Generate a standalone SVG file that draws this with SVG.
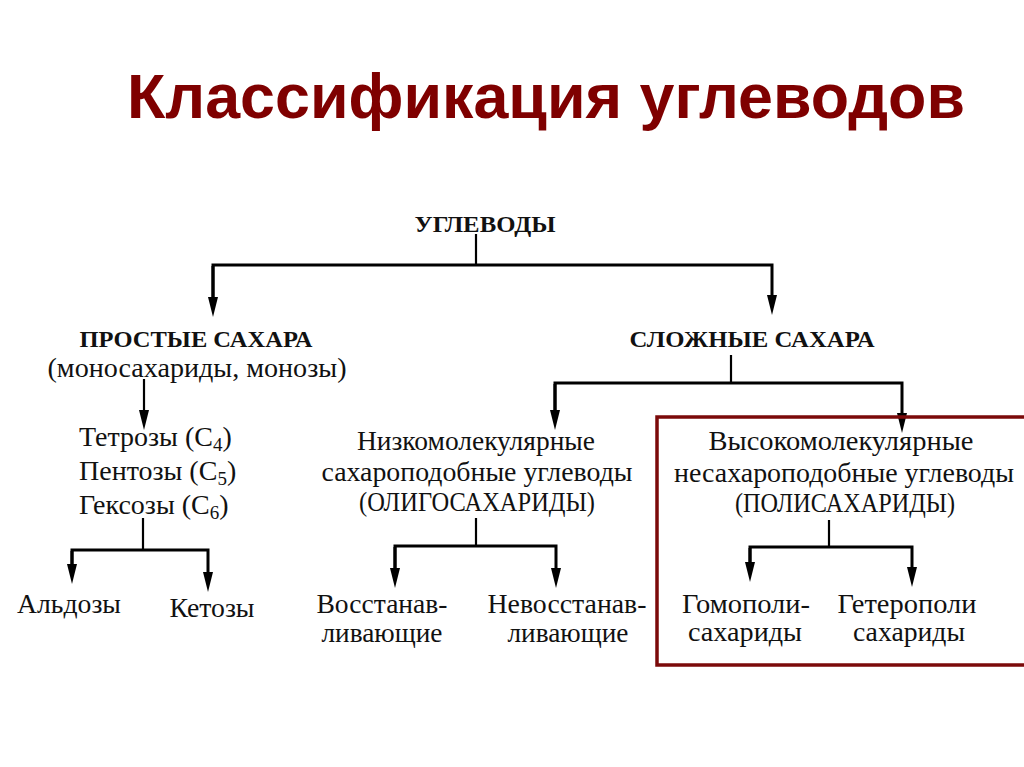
<svg xmlns="http://www.w3.org/2000/svg" width="1024" height="767" viewBox="0 0 1024 767">
<style>
.t{font-family:"Liberation Serif","Times New Roman",serif;font-size:28px;fill:#111;text-anchor:middle}
.b{font-family:"Liberation Serif","Times New Roman",serif;font-size:23px;font-weight:bold;fill:#111;text-anchor:middle}
.l{text-anchor:start}
.sub{font-size:19px}
.c{fill:none;stroke:#000;stroke-width:3}
.s{fill:none;stroke:#000;stroke-width:2.2}
</style>
<defs>
<marker id="ah" viewBox="0 0 20 10" refX="2" refY="5" markerWidth="20" markerHeight="10" markerUnits="userSpaceOnUse" orient="auto">
<path d="M0,0 L20,5 L0,10 Z" fill="#000"/>
</marker>
</defs>
<rect width="1024" height="767" fill="#fff"/>
<text x="127" y="118" font-family="Liberation Sans, Arial, sans-serif" font-weight="bold" font-size="63" fill="#7f0000" textLength="838" lengthAdjust="spacingAndGlyphs">Классификация углеводов</text>

<g id="connectors">
<path class="s" d="M476,234 V265"/>
<path class="c" d="M213,299 V265 H772 V297" marker-end="url(#ah)"/>
<path class="c" d="M213,266 V299" marker-end="url(#ah)"/>
<path class="s" d="M144,379 V412" marker-end="url(#ah)"/>
<path class="s" d="M143,518 V550"/>
<path class="c" d="M72,566 V550 H208 V574" marker-end="url(#ah)"/>
<path class="c" d="M72,551 V566" marker-end="url(#ah)"/>
<path class="s" d="M731,355 V383"/>
<path class="c" d="M555,412 V383 H902 V415" marker-end="url(#ah)"/>
<path class="c" d="M555,384 V412" marker-end="url(#ah)"/>
<path class="s" d="M476,518 V546"/>
<path class="c" d="M395,570 V546 H556 V570" marker-end="url(#ah)"/>
<path class="c" d="M395,547 V570" marker-end="url(#ah)"/>
<path class="s" d="M829,520 V547"/>
<path class="c" d="M750,564 V547 H912 V569" marker-end="url(#ah)"/>
<path class="c" d="M750,548 V564" marker-end="url(#ah)"/>
</g>

<g id="uglevody"><text class="b" x="485" y="232" textLength="141" lengthAdjust="spacingAndGlyphs">УГЛЕВОДЫ</text></g>

<g id="prostye">
<text class="b" x="196" y="347" textLength="233" lengthAdjust="spacingAndGlyphs">ПРОСТЫЕ САХАРА</text>
<text class="t" x="197" y="377" textLength="299" lengthAdjust="spacingAndGlyphs">(моносахариды, монозы)</text>
</g>

<g id="monozy">
<text class="t l" x="79" y="446">Тетрозы (C<tspan class="sub" dy="5">4</tspan><tspan dy="-5">)</tspan></text>
<text class="t l" x="79" y="480">Пентозы (C<tspan class="sub" dy="5">5</tspan><tspan dy="-5">)</tspan></text>
<text class="t l" x="79" y="514">Гексозы  (C<tspan class="sub" dy="5">6</tspan><tspan dy="-5">)</tspan></text>
</g>

<g id="aldozy"><text class="t" x="69" y="613" textLength="104" lengthAdjust="spacingAndGlyphs">Альдозы</text></g>
<g id="ketozy"><text class="t" x="212" y="617" textLength="85" lengthAdjust="spacingAndGlyphs">Кетозы</text></g>

<g id="slozhnye"><text class="b" x="752" y="347" textLength="245" lengthAdjust="spacingAndGlyphs">СЛОЖНЫЕ САХАРА</text></g>

<g id="oligo">
<text class="t" x="476" y="450" textLength="238" lengthAdjust="spacingAndGlyphs">Низкомолекулярные</text>
<text class="t" x="477" y="481" textLength="311" lengthAdjust="spacingAndGlyphs">сахароподобные углеводы</text>
<text class="t" x="477" y="511" textLength="236" lengthAdjust="spacingAndGlyphs">(ОЛИГОСАХАРИДЫ)</text>
</g>

<g id="vosst">
<text class="t" x="382" y="613" textLength="131" lengthAdjust="spacingAndGlyphs">Восстанав-</text>
<text class="t" x="382" y="642" textLength="121" lengthAdjust="spacingAndGlyphs">ливающие</text>
</g>
<g id="nevosst">
<text class="t" x="567" y="613" textLength="159" lengthAdjust="spacingAndGlyphs">Невосстанав-</text>
<text class="t" x="568" y="642" textLength="121" lengthAdjust="spacingAndGlyphs">ливающие</text>
</g>

<g id="poly">
<rect x="657" y="417" width="380" height="248" fill="none" stroke="#7b0a0a" stroke-width="3.5"/>
<text class="t" x="841" y="450" textLength="265" lengthAdjust="spacingAndGlyphs">Высокомолекулярные</text>
<text class="t" x="844" y="482" textLength="340" lengthAdjust="spacingAndGlyphs">несахароподобные углеводы</text>
<text class="t" x="845" y="512" textLength="220" lengthAdjust="spacingAndGlyphs">(ПОЛИСАХАРИДЫ)</text>
</g>

<g id="homo">
<text class="t" x="746" y="613" textLength="128" lengthAdjust="spacingAndGlyphs">Гомополи-</text>
<text class="t" x="745" y="641" textLength="114" lengthAdjust="spacingAndGlyphs">сахариды</text>
</g>
<g id="hetero">
<text class="t" x="907" y="613" textLength="139" lengthAdjust="spacingAndGlyphs">Гетерополи</text>
<text class="t" x="909" y="641" textLength="112" lengthAdjust="spacingAndGlyphs">сахариды</text>
</g>
</svg>
